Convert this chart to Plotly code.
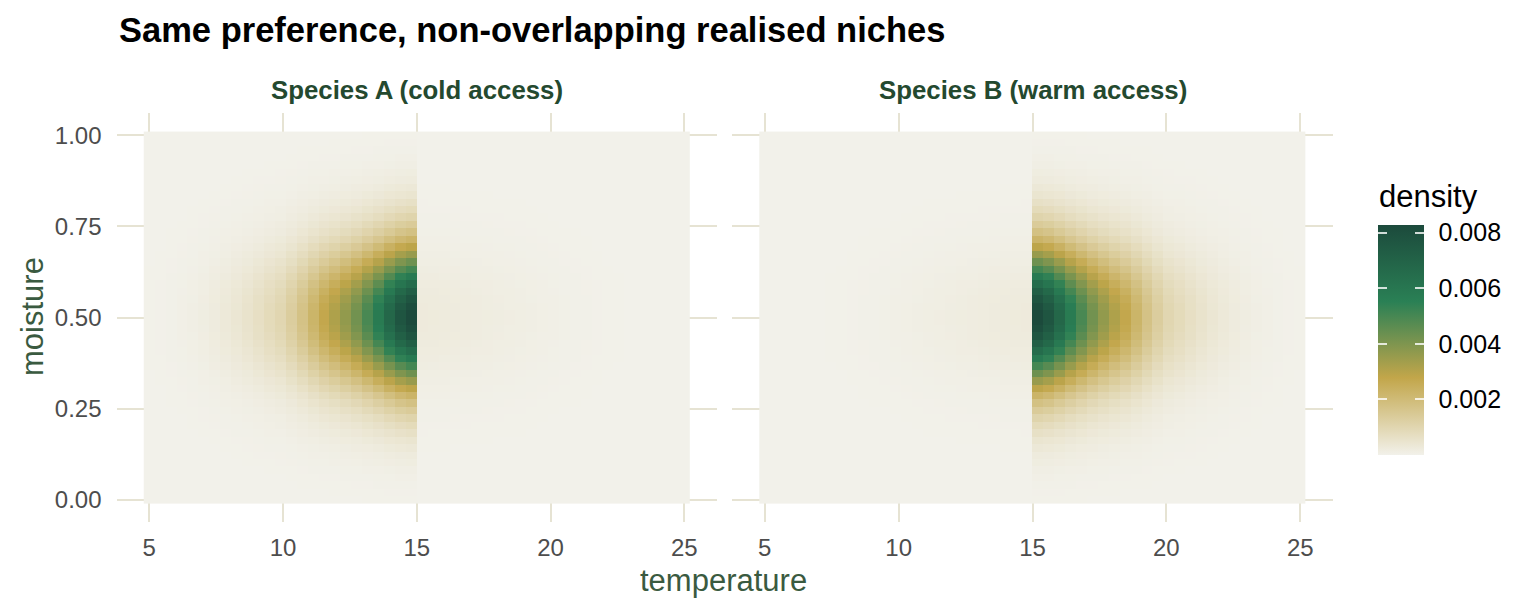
import numpy as np
import plotly.graph_objects as go

# ---- data ----
temperature = np.linspace(5, 25, 50)          # grid centres
moisture = np.linspace(0, 1, 50)

peak_density = 0.0083

# relative density along temperature, Species A (cold access), 50 columns
temp_profile_A = [0.002, 0.003, 0.005, 0.008, 0.012, 0.018, 0.026, 0.036, 0.048, 0.062,
                  0.08, 0.10, 0.12, 0.16, 0.21, 0.27, 0.33, 0.38, 0.44, 0.51,
                  0.60, 0.70, 0.82, 0.93, 1.00,
                  0.030, 0.029, 0.028, 0.026, 0.024, 0.022, 0.020, 0.018, 0.016, 0.014,
                  0.012, 0.010, 0.008, 0.006, 0.005, 0.004, 0.003, 0.002, 0.0015, 0.001,
                  0.0008, 0.0005, 0.0003, 0.0002, 0.0001]
# Species B (warm access)
temp_profile_B = [0.0001, 0.0002, 0.0003, 0.0005, 0.0008, 0.001, 0.0015, 0.002, 0.003, 0.004,
                  0.005, 0.006, 0.008, 0.010, 0.012, 0.014, 0.016, 0.018, 0.020, 0.022,
                  0.024, 0.026, 0.028, 0.029, 0.030,
                  1.00, 0.93, 0.82, 0.70, 0.60, 0.51, 0.44, 0.38, 0.33, 0.27,
                  0.21, 0.16, 0.12, 0.10, 0.08, 0.062, 0.048, 0.036, 0.026, 0.018,
                  0.012, 0.008, 0.005, 0.003, 0.002]
# relative density along moisture, 50 rows (bottom to top)
moist_profile = [0.002, 0.003, 0.005, 0.008, 0.013, 0.02, 0.028, 0.04, 0.055, 0.075,
                 0.10, 0.13, 0.17, 0.215, 0.273, 0.346, 0.427, 0.516, 0.608, 0.701,
                 0.788, 0.866, 0.929, 0.974, 0.997,
                 0.997, 0.974, 0.929, 0.866, 0.788, 0.701, 0.608, 0.516, 0.427, 0.346,
                 0.273, 0.215, 0.17, 0.13, 0.10, 0.075, 0.055, 0.04, 0.028, 0.02,
                 0.013, 0.008, 0.005, 0.003, 0.002]

panel_titles = ["Species A (cold access)", "Species B (warm access)"]
x_ticks = [5, 10, 15, 20, 25]
y_ticks = [0, 0.25, 0.5, 0.75, 1.0]
y_tick_labels = ["0.00", "0.25", "0.50", "0.75", "1.00"]
cbar_ticks = [0.002, 0.004, 0.006, 0.008]
cbar_labels = ["0.002", "0.004", "0.006", "0.008"]

zA = peak_density * np.outer(moist_profile, temp_profile_A)
zB = peak_density * np.outer(moist_profile, temp_profile_B)

# ---- styling ----
W, H = 1536, 614
FONT = "Liberation Sans"
GRID = "#E6E3D3"
TICK = "#4D4D4D"
AXT = "#3A5A40"
STRIP = "#24492F"
colorscale = [[0, "#F2F1EA"], [0.336, "#C2A64A"], [0.667, "#2A8055"], [1, "#1C4A3C"]]
clear_scale = [[0, "rgba(0,0,0,0)"], [1, "rgba(0,0,0,0)"]]
CMIN, CMAX = 0, 0.00827
CB_LEFT, CB_RIGHT, CB_TOP, CB_BOTTOM = 1378, 1424, 225, 455
MARK = "rgba(255,255,255,0.8)"

def px(x):
    return x / W

def py(y):
    return (H - y) / H

fig = go.Figure()
fig.add_trace(go.Heatmap(x=temperature, y=moisture, z=zA, coloraxis="coloraxis",
                         xaxis="x", yaxis="y", hoverinfo="skip"))
fig.add_trace(go.Heatmap(x=temperature, y=moisture, z=zB, coloraxis="coloraxis",
                         xaxis="x2", yaxis="y2", hoverinfo="skip"))
# invisible copies that only carry helper colour bars (labels / left tick marks)
fig.add_trace(go.Heatmap(x=temperature, y=moisture, z=zA, coloraxis="coloraxis2",
                         xaxis="x", yaxis="y", opacity=0, hoverinfo="skip"))
fig.add_trace(go.Heatmap(x=temperature, y=moisture, z=zA, coloraxis="coloraxis3",
                         xaxis="x", yaxis="y", opacity=0, hoverinfo="skip"))

xr = [3.776, 26.224]
yr = [-0.0612, 1.0612]
ydom = [py(522), py(113)]

common_x = dict(range=xr, tickvals=x_ticks, showgrid=True, gridcolor=GRID, gridwidth=2,
                zeroline=False, showline=False, ticks="",
                tickfont=dict(family=FONT, size=24, color=TICK), ticklabelstandoff=9)
common_y = dict(range=yr, tickvals=y_ticks, ticktext=y_tick_labels, showgrid=True,
                gridcolor=GRID, gridwidth=2, zeroline=False, showline=False, ticks="",
                tickfont=dict(family=FONT, size=24, color=TICK), domain=ydom)

cb_common = dict(x=px(CB_LEFT), xanchor="left", y=py((CB_TOP + CB_BOTTOM) / 2),
                 yanchor="middle", len=CB_BOTTOM - CB_TOP, lenmode="pixels",
                 thicknessmode="pixels", xpad=0, ypad=0, outlinewidth=0,
                 tickvals=cbar_ticks, ticktext=cbar_labels,
                 tickfont=dict(family=FONT, size=25, color="black"))

fig.update_layout(
    width=W, height=H,
    margin=dict(l=0, r=0, t=0, b=0),
    paper_bgcolor="white", plot_bgcolor="white",
    showlegend=False,
    xaxis=dict(domain=[px(116.5), px(717)], anchor="y", **common_x),
    xaxis2=dict(domain=[px(732), px(1333)], anchor="y2", **common_x),
    yaxis=dict(anchor="x", ticklabelstandoff=14, **common_y),
    yaxis2=dict(anchor="x2", showticklabels=False, **common_y),
    coloraxis=dict(
        colorscale=colorscale, cmin=CMIN, cmax=CMAX,
        colorbar=dict(thickness=CB_RIGHT - CB_LEFT, ticks="inside", ticklen=9,
                      tickwidth=1.5, tickcolor=MARK, showticklabels=False, **cb_common),
    ),
    coloraxis2=dict(
        colorscale=clear_scale, cmin=CMIN, cmax=CMAX,
        colorbar=dict(thickness=CB_RIGHT - CB_LEFT, ticks="outside", ticklen=10,
                      tickwidth=1, tickcolor="rgba(0,0,0,0)", bgcolor="rgba(0,0,0,0)",
                      **cb_common),
    ),
    coloraxis3=dict(
        colorscale=clear_scale, cmin=CMIN, cmax=CMAX,
        colorbar=dict(thickness=9, ticks="inside", ticklen=9, tickwidth=1.5,
                      tickcolor=MARK, showticklabels=False, bgcolor="rgba(0,0,0,0)",
                      **cb_common),
    ),
)

annotations = [
    dict(text="<b>Same preference, non-overlapping realised niches</b>", x=px(117), y=py(30),
         xanchor="left", yanchor="middle", font=dict(family=FONT, size=34.5, color="black")),
    dict(text="<b>" + panel_titles[0] + "</b>", x=px(416.8), y=py(90), xanchor="center",
         yanchor="middle", font=dict(family=FONT, size=25.8, color=STRIP)),
    dict(text="<b>" + panel_titles[1] + "</b>", x=px(1032.5), y=py(90), xanchor="center",
         yanchor="middle", font=dict(family=FONT, size=25.8, color=STRIP)),
    dict(text="temperature", x=px(723), y=py(580), xanchor="center", yanchor="middle",
         font=dict(family=FONT, size=31, color=AXT)),
    dict(text="moisture", x=px(32), y=py(317), xanchor="center", yanchor="middle",
         textangle=-90, font=dict(family=FONT, size=31, color=AXT)),
    dict(text="density", x=px(1377), y=py(196), xanchor="left", yanchor="middle",
         font=dict(family=FONT, size=31, color="black")),
]
for a in annotations:
    a.update(xref="paper", yref="paper", showarrow=False)
fig.update_layout(annotations=annotations)

fig.write_html("out.html")
